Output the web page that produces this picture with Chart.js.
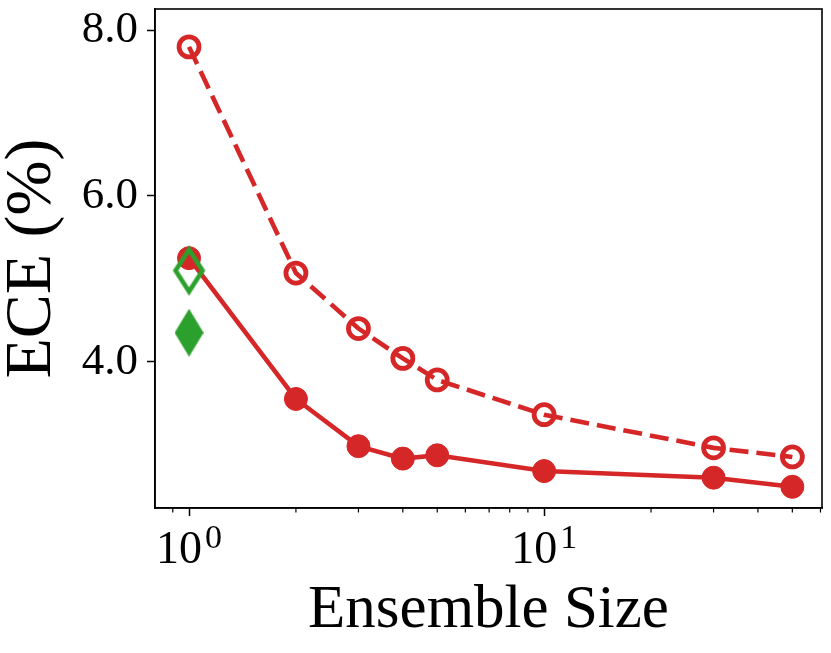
<!DOCTYPE html>
<html>
<head>
<meta charset="utf-8">
<script src="https://cdn.jsdelivr.net/npm/chart.js@4.4.0/dist/chart.umd.min.js"></script>
<style>
  html, body { margin: 0; padding: 0; background: #fff; }
  #wrap { width: 831px; height: 653px; }
</style>
</head>
<body>
<div id="wrap"><canvas id="chart"></canvas></div>
<script>
// values
const ensembleSizes = [1, 2, 3, 4, 5, 10, 30, 50];
const eceDashed = [7.80, 5.07, 4.40, 4.04, 3.78, 3.36, 2.96, 2.85];
const eceSolid = [5.25, 3.55, 2.98, 2.83, 2.87, 2.68, 2.60, 2.49];
const singleSize = [1];
const eceOpenDiamond = [5.10];
const eceFilledDiamond = [4.35];
const yTicks = [4, 6, 8];
const xMajorTicks = [1, 10];
const xMinorTicks = [0.9, 2, 3, 4, 5, 6, 7, 8, 9, 20, 30, 40, 50, 60];

const RED = '#d62728';
const GREEN = '#2ca02c';
const FONT = "'Liberation Serif', 'DejaVu Serif', serif";

function toPoints(xs, ys) {
    return xs.map((x, i) => ({ x: x, y: ys[i] }));
}

// thin diamond marker sprite (matplotlib 'd')
function makeDiamond(w, h, fill, stroke, lw) {
    const c = document.createElement('canvas');
    c.width = Math.ceil(w + lw * 2);
    c.height = Math.ceil(h + lw * 3);
    const g = c.getContext('2d');
    const cx = c.width / 2, cy = c.height / 2;
    g.beginPath();
    g.moveTo(cx, cy - h / 2);
    g.lineTo(cx + w / 2, cy);
    g.lineTo(cx, cy + h / 2);
    g.lineTo(cx - w / 2, cy);
    g.closePath();
    if (fill) {
        g.fillStyle = fill;
        g.fill();
    }
    if (stroke) {
        g.strokeStyle = stroke;
        g.lineWidth = lw;
        g.lineJoin = 'miter';
        g.stroke();
    }
    return c;
}

const openDiamond = makeDiamond(27, 42, null, GREEN, 4.6);
const filledDiamond = makeDiamond(29, 48, GREEN, null, 0);

// box around the plot + minor ticks + x tick labels with superscripts
const framePlugin = {
    id: 'frame',
    afterDraw(chart) {
        const ctx = chart.ctx;
        const a = chart.chartArea;
        const x = chart.scales.x;
        ctx.save();
        ctx.strokeStyle = '#000';
        ctx.lineWidth = 1.6;
        ctx.strokeRect(a.left, a.top, a.right - a.left, a.bottom - a.top);

        ctx.lineWidth = 1.2;
        xMinorTicks.forEach(v => {
            if (v < x.min || v > x.max) return;
            const px = x.getPixelForValue(v);
            ctx.beginPath();
            ctx.moveTo(px, a.bottom);
            ctx.lineTo(px, a.bottom + 4.5);
            ctx.stroke();
        });

        ctx.fillStyle = '#000';
        ctx.textBaseline = 'alphabetic';
        xMajorTicks.forEach(v => {
            const px = x.getPixelForValue(v);
            const base = '10';
            const exp = String(Math.round(Math.log10(v)));
            ctx.font = '46px ' + FONT;
            const wb = ctx.measureText(base).width;
            ctx.font = '34px ' + FONT;
            const we = ctx.measureText(exp).width;
            const left = px - (wb + we + 3) / 2;
            ctx.font = '46px ' + FONT;
            ctx.textAlign = 'left';
            ctx.fillText(base, left, a.bottom + 55);
            ctx.font = '34px ' + FONT;
            ctx.fillText(exp, left + wb + 3, a.bottom + 40);
        });
        ctx.restore();
    }
};

const config = {
    type: 'line',
    data: {
        datasets: [
            {
                label: 'open diamond',
                data: toPoints(singleSize, eceOpenDiamond),
                showLine: false,
                pointStyle: openDiamond,
                order: 0
            },
            {
                label: 'filled diamond',
                data: toPoints(singleSize, eceFilledDiamond),
                showLine: false,
                pointStyle: filledDiamond,
                order: 0
            },
            {
                label: 'dashed',
                data: toPoints(ensembleSizes, eceDashed),
                borderColor: RED,
                borderWidth: 4.6,
                borderDash: [19, 8],
                pointRadius: 10,
                pointBorderWidth: 4.8,
                pointBorderColor: RED,
                pointBackgroundColor: 'rgba(0,0,0,0)',
                order: 2
            },
            {
                label: 'solid',
                data: toPoints(ensembleSizes, eceSolid),
                borderColor: RED,
                borderWidth: 4.6,
                pointRadius: 11.5,
                pointBorderWidth: 1,
                pointBorderColor: RED,
                pointBackgroundColor: RED,
                order: 1
            }
        ]
    },
    options: {
        responsive: true,
        maintainAspectRatio: false,
        animation: false,
        events: [],
        layout: {
            autoPadding: false,
            padding: { top: 9, right: 9, left: 0, bottom: 0 }
        },
        plugins: {
            legend: { display: false },
            tooltip: { enabled: false }
        },
        scales: {
            x: {
                type: 'logarithmic',
                min: 0.802,
                max: 60.6,
                afterBuildTicks: s => {
                    s.ticks = xMajorTicks.map(v => ({ value: v, major: true }));
                },
                afterFit: s => {
                    s.height = 145;
                    s.paddingLeft = 0;
                    s.paddingRight = 0;
                },
                ticks: {
                    display: false
                },
                grid: {
                    display: true,
                    drawOnChartArea: false,
                    drawTicks: true,
                    tickLength: 8,
                    tickWidth: 1.5,
                    tickColor: '#000'
                },
                border: { display: true, color: '#000', width: 1.6 },
                title: {
                    display: true,
                    text: 'Ensemble Size',
                    color: '#000',
                    font: { family: FONT, size: 61, lineHeight: 1 },
                    padding: { top: 0, bottom: 12 }
                }
            },
            y: {
                min: 2.234,
                max: 8.257,
                afterBuildTicks: s => {
                    s.ticks = yTicks.map(v => ({ value: v }));
                },
                afterFit: s => {
                    s.width = 155;
                    s.paddingTop = 0;
                    s.paddingBottom = 0;
                },
                ticks: {
                    color: '#000',
                    padding: 9,
                    font: { family: FONT, size: 45 },
                    callback: v => Number(v).toFixed(1)
                },
                grid: {
                    display: true,
                    drawOnChartArea: false,
                    drawTicks: true,
                    tickLength: 8,
                    tickWidth: 1.5,
                    tickColor: '#000'
                },
                border: { display: true, color: '#000', width: 1.6 },
                title: {
                    display: true,
                    text: 'ECE (%)',
                    color: '#000',
                    font: { family: FONT, size: 66, lineHeight: 1 },
                    padding: { top: 0, bottom: 0 }
                }
            }
        }
    },
    plugins: [framePlugin]
};

new Chart(document.getElementById('chart'), config);
</script>
</body>
</html>
